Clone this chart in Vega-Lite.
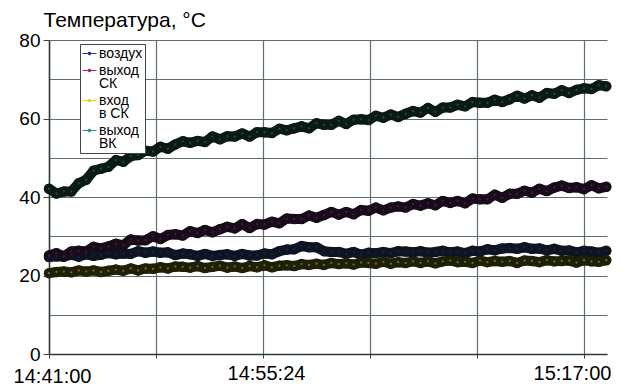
{
  "$schema": "https://vega.github.io/schema/vega-lite/v6.json",
  "width": 558,
  "height": 314,
  "autosize": {"type": "none"},
  "padding": {"left": 49, "top": 40, "right": 15, "bottom": 31},
  "background": "white",
  "config": {"font": "Liberation Sans", "view": {"stroke": null}},
  "data": {"values": [
    {"t": "2020-01-01T14:41:00", "воздух": 24.7, "выход СК": 25.1, "вход в СК": 20.6, "выход ВК": 42.1},
    {"t": "2020-01-01T14:41:30", "воздух": 24.9, "выход СК": 25.7, "вход в СК": 20.9, "выход ВК": 40.9},
    {"t": "2020-01-01T14:42:00", "воздух": 24.8, "выход СК": 24.9, "вход в СК": 21.0, "выход ВК": 41.4},
    {"t": "2020-01-01T14:42:30", "воздух": 25.3, "выход СК": 26.1, "вход в СК": 20.8, "выход ВК": 41.4},
    {"t": "2020-01-01T14:43:00", "воздух": 24.8, "выход СК": 26.3, "вход в СК": 21.3, "выход ВК": 43.5},
    {"t": "2020-01-01T14:43:30", "воздух": 25.4, "выход СК": 26.1, "вход в СК": 21.0, "выход ВК": 44.4},
    {"t": "2020-01-01T14:44:00", "воздух": 25.0, "выход СК": 27.3, "вход в СК": 21.3, "выход ВК": 46.7},
    {"t": "2020-01-01T14:44:30", "воздух": 25.3, "выход СК": 26.9, "вход в СК": 20.9, "выход ВК": 47.2},
    {"t": "2020-01-01T14:45:00", "воздух": 25.7, "выход СК": 27.4, "вход в СК": 21.2, "выход ВК": 47.7},
    {"t": "2020-01-01T14:45:30", "воздух": 25.4, "выход СК": 28.1, "вход в СК": 21.5, "выход ВК": 49.4},
    {"t": "2020-01-01T14:46:00", "воздух": 25.6, "выход СК": 27.7, "вход в СК": 21.2, "выход ВК": 49.0},
    {"t": "2020-01-01T14:46:30", "воздух": 25.5, "выход СК": 29.2, "вход в СК": 21.8, "выход ВК": 50.4},
    {"t": "2020-01-01T14:47:00", "воздух": 26.2, "выход СК": 28.9, "вход в СК": 21.3, "выход ВК": 50.7},
    {"t": "2020-01-01T14:47:30", "воздух": 25.8, "выход СК": 29.0, "вход в СК": 21.8, "выход ВК": 51.8},
    {"t": "2020-01-01T14:48:00", "воздух": 26.1, "выход СК": 30.0, "вход в СК": 21.7, "выход ВК": 51.6},
    {"t": "2020-01-01T14:48:30", "воздух": 25.8, "выход СК": 29.3, "вход в СК": 22.1, "выход ВК": 52.8},
    {"t": "2020-01-01T14:49:00", "воздух": 25.9, "выход СК": 30.3, "вход в СК": 21.8, "выход ВК": 52.3},
    {"t": "2020-01-01T14:49:30", "воздух": 25.2, "выход СК": 30.5, "вход в СК": 22.3, "выход ВК": 53.4},
    {"t": "2020-01-01T14:50:00", "воздух": 25.6, "выход СК": 30.2, "вход в СК": 22.2, "выход ВК": 54.2},
    {"t": "2020-01-01T14:50:30", "воздух": 25.4, "выход СК": 31.3, "вход в СК": 22.0, "выход ВК": 53.8},
    {"t": "2020-01-01T14:51:00", "воздух": 25.0, "выход СК": 30.8, "вход в СК": 22.4, "выход ВК": 54.3},
    {"t": "2020-01-01T14:51:30", "воздух": 25.5, "выход СК": 31.6, "вход в СК": 21.9, "выход ВК": 54.0},
    {"t": "2020-01-01T14:52:00", "воздух": 25.0, "выход СК": 31.0, "вход в СК": 22.2, "выход ВК": 55.4},
    {"t": "2020-01-01T14:52:30", "воздух": 25.2, "выход СК": 31.8, "вход в СК": 22.5, "выход ВК": 54.7},
    {"t": "2020-01-01T14:53:00", "воздух": 25.4, "выход СК": 32.4, "вход в СК": 22.0, "выход ВК": 55.5},
    {"t": "2020-01-01T14:53:30", "воздух": 25.0, "выход СК": 32.0, "вход в СК": 22.3, "выход ВК": 55.4},
    {"t": "2020-01-01T14:54:00", "воздух": 25.5, "выход СК": 33.1, "вход в СК": 21.9, "выход ВК": 56.2},
    {"t": "2020-01-01T14:54:30", "воздух": 25.1, "выход СК": 32.1, "вход в СК": 22.4, "выход ВК": 55.4},
    {"t": "2020-01-01T14:55:00", "воздух": 25.1, "выход СК": 33.1, "вход в СК": 22.1, "выход ВК": 56.5},
    {"t": "2020-01-01T14:55:30", "воздух": 25.6, "выход СК": 33.0, "вход в СК": 22.6, "выход ВК": 56.5},
    {"t": "2020-01-01T14:56:00", "воздух": 25.4, "выход СК": 33.7, "вход в СК": 22.1, "выход ВК": 56.3},
    {"t": "2020-01-01T14:56:30", "воздух": 26.2, "выход СК": 33.3, "вход в СК": 22.5, "выход ВК": 57.4},
    {"t": "2020-01-01T14:57:00", "воздух": 26.6, "выход СК": 34.5, "вход в СК": 22.6, "выход ВК": 57.0},
    {"t": "2020-01-01T14:57:30", "воздух": 26.7, "выход СК": 34.4, "вход в СК": 22.4, "выход ВК": 57.5},
    {"t": "2020-01-01T14:58:00", "воздух": 27.5, "выход СК": 34.4, "вход в СК": 22.9, "выход ВК": 58.0},
    {"t": "2020-01-01T14:58:30", "воздух": 27.2, "выход СК": 35.3, "вход в СК": 22.7, "выход ВК": 57.5},
    {"t": "2020-01-01T14:59:00", "воздух": 27.2, "выход СК": 34.7, "вход в СК": 23.0, "выход ВК": 58.8},
    {"t": "2020-01-01T14:59:30", "воздух": 26.2, "выход СК": 35.4, "вход в СК": 22.7, "выход ВК": 58.4},
    {"t": "2020-01-01T15:00:00", "воздух": 26.0, "выход СК": 36.2, "вход в СК": 23.2, "выход ВК": 58.4},
    {"t": "2020-01-01T15:00:30", "воздух": 26.0, "выход СК": 35.5, "вход в СК": 22.9, "выход ВК": 59.4},
    {"t": "2020-01-01T15:01:00", "воздух": 25.5, "выход СК": 36.2, "вход в СК": 23.1, "выход ВК": 58.6},
    {"t": "2020-01-01T15:01:30", "воздух": 26.0, "выход СК": 35.6, "вход в СК": 22.8, "выход ВК": 59.7},
    {"t": "2020-01-01T15:02:00", "воздух": 25.3, "выход СК": 36.7, "вход в СК": 23.3, "выход ВК": 59.8},
    {"t": "2020-01-01T15:02:30", "воздух": 25.8, "выход СК": 36.5, "вход в СК": 23.2, "выход ВК": 59.6},
    {"t": "2020-01-01T15:03:00", "воздух": 25.7, "выход СК": 37.3, "вход в СК": 23.0, "выход ВК": 60.7},
    {"t": "2020-01-01T15:03:30", "воздух": 26.0, "выход СК": 36.6, "вход в СК": 23.5, "выход ВК": 60.2},
    {"t": "2020-01-01T15:04:00", "воздух": 25.7, "выход СК": 37.3, "вход в СК": 23.0, "выход ВК": 61.0},
    {"t": "2020-01-01T15:04:30", "воздух": 26.2, "выход СК": 37.6, "вход в СК": 23.4, "выход ВК": 60.4},
    {"t": "2020-01-01T15:05:00", "воздух": 26.1, "выход СК": 37.3, "вход в СК": 23.2, "выход ВК": 61.2},
    {"t": "2020-01-01T15:05:30", "воздух": 25.9, "выход СК": 38.2, "вход в СК": 23.6, "выход ВК": 61.9},
    {"t": "2020-01-01T15:06:00", "воздух": 26.2, "выход СК": 37.8, "вход в СК": 23.2, "выход ВК": 61.5},
    {"t": "2020-01-01T15:06:30", "воздух": 25.8, "выход СК": 38.4, "вход в СК": 23.6, "выход ВК": 62.7},
    {"t": "2020-01-01T15:07:00", "воздух": 26.0, "выход СК": 37.9, "вход в СК": 23.1, "выход ВК": 61.7},
    {"t": "2020-01-01T15:07:30", "воздух": 26.3, "выход СК": 39.0, "вход в СК": 23.6, "выход ВК": 62.8},
    {"t": "2020-01-01T15:08:00", "воздух": 25.9, "выход СК": 38.5, "вход в СК": 23.8, "выход ВК": 62.8},
    {"t": "2020-01-01T15:08:30", "воздух": 26.1, "выход СК": 39.0, "вход в СК": 23.4, "выход ВК": 63.5},
    {"t": "2020-01-01T15:09:00", "воздух": 25.7, "выход СК": 38.4, "вход в СК": 23.5, "выход ВК": 63.1},
    {"t": "2020-01-01T15:09:30", "воздух": 26.3, "выход СК": 39.6, "вход в СК": 23.2, "выход ВК": 64.2},
    {"t": "2020-01-01T15:10:00", "воздух": 26.1, "выход СК": 39.4, "вход в СК": 23.8, "выход ВК": 64.0},
    {"t": "2020-01-01T15:10:30", "воздух": 26.7, "выход СК": 39.4, "вход в СК": 23.4, "выход ВК": 64.0},
    {"t": "2020-01-01T15:11:00", "воздух": 26.4, "выход СК": 40.6, "вход в СК": 23.7, "выход ВК": 64.8},
    {"t": "2020-01-01T15:11:30", "воздух": 26.9, "выход СК": 39.8, "вход в СК": 23.5, "выход ВК": 64.2},
    {"t": "2020-01-01T15:12:00", "воздух": 27.0, "выход СК": 40.8, "вход в СК": 23.7, "выход ВК": 64.9},
    {"t": "2020-01-01T15:12:30", "воздух": 26.8, "выход СК": 40.8, "вход в СК": 23.2, "выход ВК": 65.8},
    {"t": "2020-01-01T15:13:00", "воздух": 27.2, "выход СК": 41.6, "вход в СК": 23.8, "выход ВК": 65.1},
    {"t": "2020-01-01T15:13:30", "воздух": 26.8, "выход СК": 41.1, "вход в СК": 23.7, "выход ВК": 65.9},
    {"t": "2020-01-01T15:14:00", "воздух": 26.9, "выход СК": 42.1, "вход в СК": 23.4, "выход ВК": 65.3},
    {"t": "2020-01-01T15:14:30", "воздух": 26.4, "выход СК": 41.5, "вход в СК": 23.9, "выход ВК": 66.5},
    {"t": "2020-01-01T15:15:00", "воздух": 26.8, "выход СК": 42.4, "вход в СК": 23.6, "выход ВК": 66.3},
    {"t": "2020-01-01T15:15:30", "воздух": 26.3, "выход СК": 42.9, "вход в СК": 23.7, "выход ВК": 67.2},
    {"t": "2020-01-01T15:16:00", "воздух": 26.4, "выход СК": 42.3, "вход в СК": 23.8, "выход ВК": 66.5},
    {"t": "2020-01-01T15:16:30", "воздух": 25.9, "выход СК": 42.5, "вход в СК": 23.3, "выход ВК": 67.3},
    {"t": "2020-01-01T15:17:00", "воздух": 26.3, "выход СК": 42.0, "вход в СК": 23.9, "выход ВК": 67.7},
    {"t": "2020-01-01T15:17:30", "воздух": 26.1, "выход СК": 43.0, "вход в СК": 23.6, "выход ВК": 67.5},
    {"t": "2020-01-01T15:18:00", "воздух": 25.8, "выход СК": 42.2, "вход в СК": 23.5, "выход ВК": 68.5},
    {"t": "2020-01-01T15:18:30", "воздух": 26.3, "выход СК": 42.6, "вход в СК": 23.9, "выход ВК": 68.2}
  ]},
  "transform": [{"fold": ["воздух", "выход СК", "вход в СК", "выход ВК"], "as": ["серия", "T"]}],
  "encoding": {
    "x": {
      "field": "t", "type": "temporal", "title": null,
      "scale": {"domain": [
        {"year": 2020, "month": 1, "date": 1, "hours": 14, "minutes": 41, "seconds": 0},
        {"year": 2020, "month": 1, "date": 1, "hours": 15, "minutes": 18, "seconds": 33}
      ]},
      "axis": {
        "values": [
          {"year": 2020, "month": 1, "date": 1, "hours": 14, "minutes": 41, "seconds": 0},
          {"year": 2020, "month": 1, "date": 1, "hours": 14, "minutes": 48, "seconds": 12},
          {"year": 2020, "month": 1, "date": 1, "hours": 14, "minutes": 55, "seconds": 24},
          {"year": 2020, "month": 1, "date": 1, "hours": 15, "minutes": 2, "seconds": 36},
          {"year": 2020, "month": 1, "date": 1, "hours": 15, "minutes": 9, "seconds": 48},
          {"year": 2020, "month": 1, "date": 1, "hours": 15, "minutes": 17, "seconds": 0}
        ],
        "format": "%H:%M:%S",
        "labelExpr": "(datum.label == '14:41:00' || datum.label == '14:55:24' || datum.label == '15:17:00') ? datum.label : ''",
        "labelOffset": {"condition": {"test": "datum.label == '15:17:00'", "value": -12}, "value": 3},
        "labelPadding": {"condition": {"test": "datum.label == '14:41:00'", "value": 8}, "value": 5},
        "labelFontSize": 20, "labelColor": "black",
        "labelFlush": false, "labelOverlap": false, "labelBound": false,
        "grid": true, "gridColor": "#5f6e6e", "gridWidth": 1.2,
        "tickSize": 4, "tickColor": "#3a4545", "domainColor": "#2f3a3a", "domainWidth": 1.5
      }
    },
    "y": {
      "field": "T", "type": "quantitative",
      "scale": {"domain": [0, 80], "nice": false},
      "axis": {
        "values": [0, 10, 20, 30, 40, 50, 60, 70, 80],
        "labelExpr": "datum.value % 20 == 0 ? datum.label : ''",
        "labelFontSize": 19, "labelColor": "black", "labelPadding": 3, "labelFlush": false,
        "tickSize": 6, "tickColor": "#3a4545",
        "tickOpacity": {"condition": {"test": "datum.value % 20 != 0", "value": 0}, "value": 1},
        "grid": true, "gridColor": "#5f6e6e", "gridWidth": 1.2,
        "domainColor": "#2f3a3a", "domainWidth": 1.5,
        "title": "Температура, °C", "titleAngle": 0, "titleAlign": "left", "titleBaseline": "alphabetic",
        "titleX": -6, "titleY": -14, "titleFontSize": 21, "titleFontWeight": "normal", "titleColor": "black"
      }
    }
  },
  "layer": [
    {
      "mark": {"type": "line", "strokeWidth": 10, "strokeCap": "round", "strokeJoin": "round"},
      "encoding": {
        "detail": {"field": "серия", "type": "nominal"},
        "stroke": {"condition": [
          {"test": "datum['серия'] == 'воздух'", "value": "#0e1420"},
          {"test": "datum['серия'] == 'выход СК'", "value": "#180c1a"},
          {"test": "datum['серия'] == 'вход в СК'", "value": "#1f2008"}
        ], "value": "#0c1a17"}
      }
    },
    {
      "mark": {"type": "point", "filled": true, "size": 110, "opacity": 1},
      "encoding": {
        "fill": {"condition": [
          {"test": "datum['серия'] == 'воздух'", "value": "#0e1420"},
          {"test": "datum['серия'] == 'выход СК'", "value": "#180c1a"},
          {"test": "datum['серия'] == 'вход в СК'", "value": "#1f2008"}
        ], "value": "#0c1a17"}
      }
    },
    {
      "mark": {"type": "point", "filled": true, "size": 5, "opacity": 0.45},
      "encoding": {"color": {"field": "серия", "type": "nominal",
        "scale": {"domain": ["воздух", "выход СК", "вход в СК", "выход ВК"], "range": ["#23329a", "#9b1f8f", "#e6d21e", "#2f8f8a"]},
        "legend": {
          "title": null, "orient": "none", "legendX": 31, "legendY": 4,
          "fillColor": "white", "strokeColor": "#444", "padding": 2,
          "labelFontSize": 14, "labelColor": "black", "labelOffset": 2,
          "rowPadding": 2, "symbolSize": 196, "symbolOpacity": 1, "symbolStrokeWidth": 1,
          "symbolType": "M-1,0H1M-0.2,0A0.2,0.2,0,1,1,0.2,0A0.2,0.2,0,1,1,-0.2,0Z",
          "labelExpr": "datum.label == 'выход СК' ? ['выход', 'СК'] : datum.label == 'вход в СК' ? ['вход', 'в СК'] : datum.label == 'выход ВК' ? ['выход', 'ВК'] : datum.label",
          "encode": {
            "symbols": {"update": {"stroke": {"scale": "color", "field": "value"}, "strokeWidth": {"value": 1}}},
            "labels": {"update": {"lineHeight": {"value": 13}}}
          }
        }}}
    }
  ]
}
